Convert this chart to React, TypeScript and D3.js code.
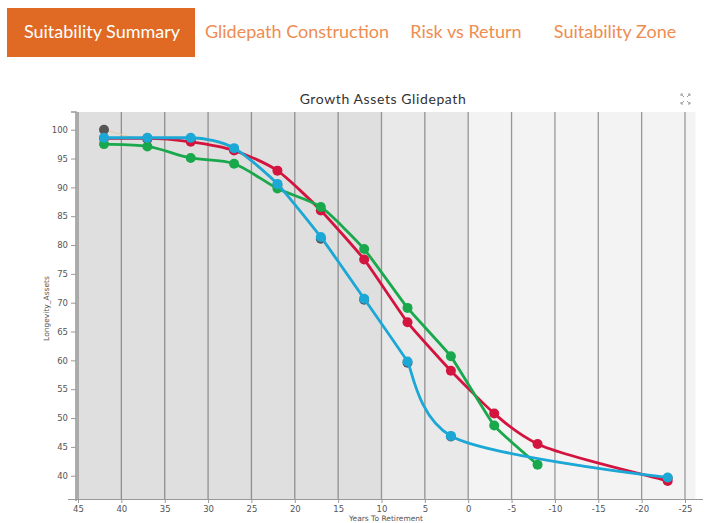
import React, { useEffect, useRef } from 'react';
import * as d3 from 'd3';

const tabs = ['Suitability Summary', 'Glidepath Construction', 'Risk vs Return', 'Suitability Zone'];
const years = [42, 37, 32, 27, 22, 17, 12, 7, 2, -3, -8, -23];
const xTicks = [45, 40, 35, 30, 25, 20, 15, 10, 5, 0, -5, -10, -15, -20, -25];
const yTicks = [40, 45, 50, 55, 60, 65, 70, 75, 80, 85, 90, 95, 100];

// null = no point for that year
const grayValues = [100, 98.4, 98.4, 96.5, 90.4, 81.1, 70.5, 59.6, 46.8, null, null, 39.6];
const redValues = [98.5, 98.5, 97.9, 96.4, 92.9, 86.0, 77.5, 66.6, 58.2, 50.8, 45.5, 39.1];
const greenValues = [97.5, 97.1, 95.1, 94.1, 89.8, 86.6, 79.3, 69.1, 60.7, 48.7, 41.9, null];
const blueValues = [98.6, 98.6, 98.6, 96.8, 90.6, 81.4, 70.7, 59.8, 46.9, null, null, 39.7];

const bands = [
  { from: 45.3, to: 10, fill: '#dfdfdf' },
  { from: 10, to: 0, fill: '#e9e9e9' },
  { from: 0, to: -26.2, fill: '#f3f3f3' },
];

const series = [
  { name: 'gray', values: grayValues, line: '#e6cda8', width: 1, dot: '#555555' },
  { name: 'red', values: redValues, line: '#d3143f', width: 2.8, dot: '#d3143f' },
  { name: 'green', values: greenValues, line: '#19a84c', width: 2.8, dot: '#19a84c' },
  { name: 'blue', values: blueValues, line: '#1ca8d6', width: 2.8, dot: '#1ca8d6' },
];

// old-style (d3 v3) monotone interpolation, works on pixel points
function monotonePath(points: [number, number][]): string {
  const n = points.length;
  if (n < 3) return 'M' + points.map(p => p.join(',')).join('L');
  const slope = (a: [number, number], b: [number, number]) => (b[1] - a[1]) / (b[0] - a[0]);
  const m: number[] = [];
  let d = slope(points[0], points[1]);
  m[0] = d;
  for (let i = 1; i < n - 1; i++) {
    const prev = d;
    d = slope(points[i], points[i + 1]);
    m[i] = (prev + d) / 2;
  }
  m[n - 1] = d;
  for (let i = 0; i < n - 1; i++) {
    const dd = slope(points[i], points[i + 1]);
    if (Math.abs(dd) < 1e-6) {
      m[i] = m[i + 1] = 0;
    } else {
      const a = m[i] / dd;
      const b = m[i + 1] / dd;
      let s = a * a + b * b;
      if (s > 9) {
        s = (dd * 3) / Math.sqrt(s);
        m[i] = s * a;
        m[i + 1] = s * b;
      }
    }
  }
  const t: [number, number][] = points.map((_, i) => {
    const s = (points[Math.min(n - 1, i + 1)][0] - points[Math.max(0, i - 1)][0]) / (6 * (1 + m[i] * m[i]));
    return [s || 0, m[i] * s || 0];
  });
  let path = `M${points[0][0]},${points[0][1]}`;
  for (let i = 0; i < n - 1; i++) {
    const p0 = points[i];
    const p1 = points[i + 1];
    path += `C${p0[0] + t[i][0]},${p0[1] + t[i][1]},${p1[0] - t[i + 1][0]},${p1[1] - t[i + 1][1]},${p1[0]},${p1[1]}`;
  }
  return path;
}

const App: React.FC = () => {
  const svgRef = useRef<SVGSVGElement>(null);

  useEffect(() => {
    if (!svgRef.current) return;
    const svg = d3.select(svgRef.current);
    svg.selectAll('*').remove();

    const width = 705;
    const height = 523;
    svg.attr('width', width).attr('height', height);

    // tabs
    const tabFont = 'Lato, "Open Sans", sans-serif';
    svg.append('rect').attr('x', 7).attr('y', 8).attr('width', 188).attr('height', 49).attr('fill', '#e06a23');
    const tabX = [102, 297, 466, 615];
    tabs.forEach((t, i) => {
      svg.append('text')
        .attr('x', tabX[i])
        .attr('y', 38)
        .attr('text-anchor', 'middle')
        .attr('fill', i === 0 ? '#ffffff' : '#ee8d52')
        .style('font-family', tabFont)
        .style('font-size', '18px')
        .text(t);
    });

    const x = d3.scaleLinear().domain([45, -25]).range([78, 685]);
    const y = d3.scaleLinear().domain([40, 100]).range([475.7, 129.7]);
    const plotTop = 112;
    const plotBottom = 499;
    const plotLeft = 76;
    const plotRight = 695;

    // title
    svg.append('text')
      .attr('x', 383)
      .attr('y', 104)
      .attr('text-anchor', 'middle')
      .attr('fill', '#333')
      .style('font-family', 'Lato, sans-serif')
      .style('font-size', '14px')
      .style('letter-spacing', '0.6px')
      .text('Growth Assets Glidepath');

    // expand icon
    const icon = svg.append('g').attr('fill', 'none').attr('stroke', '#999').attr('stroke-width', 1);
    [[681, 94, 1, 1], [690, 94, -1, 1], [681, 104, 1, -1], [690, 104, -1, -1]].forEach(([cx, cy, sx, sy]) => {
      icon.append('path').attr('d', `M${cx},${cy + 2 * sy}V${cy}H${cx + 2 * sx}M${cx},${cy}L${cx + 3 * sx},${cy + 3 * sy}`);
    });

    // bands
    bands.forEach(b => {
      svg.append('rect')
        .attr('x', Math.min(x(b.from), x(b.to)))
        .attr('y', plotTop)
        .attr('width', Math.abs(x(b.to) - x(b.from)))
        .attr('height', plotBottom - plotTop)
        .attr('fill', b.fill);
    });

    // vertical grid
    svg.append('g')
      .selectAll('line')
      .data(xTicks)
      .join('line')
      .attr('x1', d => x(d))
      .attr('x2', d => x(d))
      .attr('y1', plotTop)
      .attr('y2', plotBottom)
      .attr('stroke', '#5a5a5a')
      .attr('stroke-opacity', 0.6)
      .attr('stroke-width', 1.3);

    const tickFont = '"DejaVu Sans", Verdana, sans-serif';

    // x axis
    const xAxis = svg.append('g')
      .attr('transform', `translate(0,${plotBottom})`)
      .call(d3.axisBottom(x).tickValues(xTicks).tickSize(4).tickPadding(3).tickFormat(d => String(d)));
    xAxis.select('.domain').attr('stroke', '#999').attr('d', `M${plotLeft - 8},0.5H${plotRight + 8}`);
    xAxis.selectAll('.tick line').attr('stroke', '#999');
    xAxis.selectAll('.tick text').attr('fill', '#555').style('font-family', tickFont).style('font-size', '8.5px');

    // y axis
    const yAxis = svg.append('g')
      .attr('transform', `translate(${plotLeft},0)`)
      .call(d3.axisLeft(y).tickValues(yTicks).tickSize(5).tickPadding(3));
    yAxis.select('.domain').attr('stroke', '#999').attr('stroke-width', 1.5).attr('d', `M-5,${plotTop}H0V${plotBottom + 2}`);
    yAxis.selectAll('.tick line').attr('stroke', '#999');
    yAxis.selectAll('.tick text').attr('fill', '#555').style('font-family', tickFont).style('font-size', '8.5px');

    // axis labels
    svg.append('text')
      .attr('transform', `translate(49,${(plotTop + plotBottom) / 2 + 3}) rotate(-90)`)
      .attr('text-anchor', 'middle')
      .attr('fill', '#555')
      .style('font-family', tickFont)
      .style('font-size', '7.5px')
      .text('Longevity_Assets');
    svg.append('text')
      .attr('x', 386)
      .attr('y', 521)
      .attr('text-anchor', 'middle')
      .attr('fill', '#555')
      .style('font-family', tickFont)
      .style('font-size', '7.5px')
      .text('Years To Retirement');

    // series
    series.forEach(s => {
      const pts = years
        .map((yr, i) => ({ yr, v: s.values[i] as number | null }))
        .filter(p => p.v !== null) as { yr: number; v: number }[];
      const pix = pts.map(p => [x(p.yr), y(p.v)] as [number, number]);
      svg.append('path')
        .attr('fill', 'none')
        .attr('stroke', s.line)
        .attr('stroke-width', s.width)
        .attr('d', monotonePath(pix));
      svg.append('g')
        .selectAll('circle')
        .data(pts)
        .join('circle')
        .attr('cx', d => x(d.yr))
        .attr('cy', d => y(d.v))
        .attr('r', 5)
        .attr('fill', s.dot);
    });
  }, []);

  return (
    <div style={{ position: 'absolute', left: 0, top: 0, background: '#fff' }}>
      <svg ref={svgRef} style={{ display: 'block' }} />
    </div>
  );
};

export default App;
